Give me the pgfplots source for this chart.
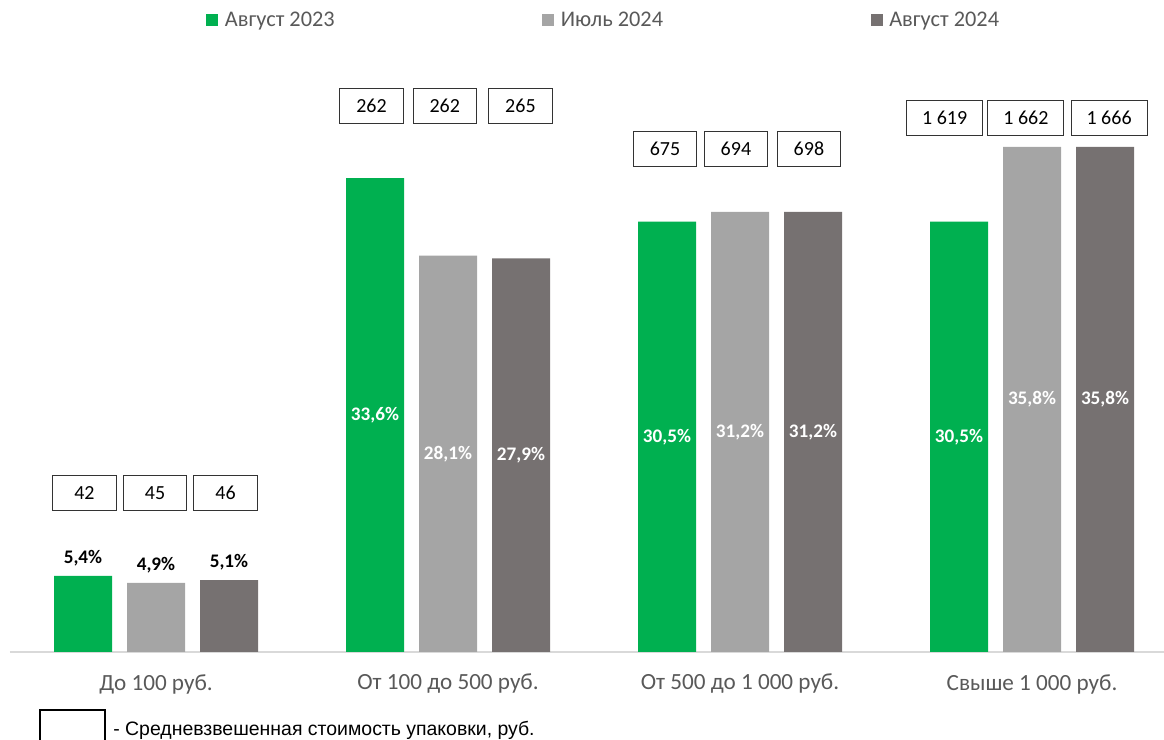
\documentclass[border=0pt]{standalone}
\usepackage{pgfplots}
\pgfplotsset{compat=1.18}
\usepackage{pgfplotstable}
\usepackage{fontspec}
\setmainfont{Carlito}
\newfontfamily\arialf{Liberation Sans}

\definecolor{cgreen}{HTML}{00B050}
\definecolor{clight}{HTML}{A5A5A5}
\definecolor{cdark}{HTML}{767171}
\definecolor{ctext}{HTML}{595959}
\definecolor{caxis}{HTML}{D9D9D9}

% x: group, v: share in %, box: weighted mean pack price, bx/by: where its frame sits
\pgfplotstableread{
x v    box  bx     by
0 5.4  42   -0.245 11.28
1 33.6 262  0.738  38.70
2 30.5 675  1.743  35.67
3 30.5 1619 2.701  37.86
}\augA
\pgfplotstableread{
x v    box  bx     by
0 4.9  45   -0.003 11.28
1 28.1 262  0.989  38.70
2 31.2 694  1.986  35.67
3 35.8 1662 2.979  37.86
}\julB
\pgfplotstableread{
x v    box  bx     by
0 5.1  46   0.238  11.28
1 27.9 265  1.248  38.70
2 31.2 698  2.236  35.67
3 35.8 1666 3.264  37.86
}\augB

\newcommand\pct{\fontsize{11.5}{13}\selectfont\bfseries}
\newcommand\num{\fontsize{12}{14}\selectfont}

% #1 table, #2 colour, #3 x offset, #4 legend text
\newcommand\series[4]{%
  \addplot[ybar, bar width=34.8pt, bar shift=0pt, fill=#2, draw=none, sq legend]
    table[x expr=\thisrow{x}+#3, y=v] {#1};
  \addlegendentry{#4}
  % percentages inside the bars
  \addplot[forget plot, draw=none, mark=none, restrict x to domain=0.5:4,
    point meta=\thisrow{v},
    nodes near coords={\pgfmathprintnumber{\pgfplotspointmeta}\%},
    every node near coord/.append style={font=\pct, text=white, anchor=center},
    /pgf/number format/.cd, use comma, fixed, fixed zerofill, precision=1, assume math mode=true]
    table[x expr=\thisrow{x}+#3, y expr=\thisrow{v}/2] {#1};
  % percentages above the small bars
  \addplot[forget plot, draw=none, mark=none, restrict x to domain=-1:0.5,
    point meta=\thisrow{v},
    nodes near coords={\pgfmathprintnumber{\pgfplotspointmeta}\%},
    every node near coord/.append style={font=\pct, text=black, anchor=center, yshift=10.8pt},
    /pgf/number format/.cd, use comma, fixed, fixed zerofill, precision=1, assume math mode=true]
    table[x expr=\thisrow{x}+#3, y=v] {#1};
  % framed prices
  \addplot[forget plot, draw=none, mark=none,
    point meta=\thisrow{box}, nodes near coords,
    every node near coord/.append style={font=\num, text=black, draw=black!80, line width=0.6pt,
      anchor=center, minimum width=38pt, minimum height=20.7pt, inner xsep=9.3pt},
    /pgf/number format/.cd, fixed, precision=0, 1000 sep={\ }, assume math mode=true]
    table[x=bx, y=by] {#1};
}

\begin{document}
\begin{tikzpicture}
\useasboundingbox (0,0) rectangle (698.4pt,444pt);
\begin{axis}[
  scale only axis, width=692.4pt, height=338.56pt,
  at={(6pt,52.8pt)}, anchor=south west,
  xmin=-0.5, xmax=3.452, ymin=0, ymax=40,
  axis x line*=bottom, axis y line=none,
  x axis line style={draw=caxis, line width=0.9pt},
  xtick={0,1,2,3},
  xticklabels={До 100 руб., От 100 до 500 руб., От 500 до 1 000 руб., Свыше 1 000 руб.},
  major tick length=0pt,
  xticklabel style={font=\fontsize{13.9}{16}\selectfont, text=ctext, anchor=center, yshift=-19.2pt},
  clip=false,
  sq legend/.style={legend image code/.code={\fill[##1, draw=none] (0pt,-3.6pt) rectangle (7.2pt,3.6pt);}},
  legend style={at={(0.515,1.12)}, anchor=center, legend columns=3, draw=none,
    font=\fontsize{13.4}{16}\selectfont, text=ctext,
    /tikz/every odd column/.append style={column sep=2pt},
    /tikz/every even column/.append style={column sep=122.5pt}},
]
\series{\augA}{cgreen}{-0.25}{Август 2023}
\series{\julB}{clight}{0}{Июль 2024}
\series{\augB}{cdark}{0.25}{Август 2024}
\end{axis}
\draw[line width=1.2pt] (24pt,-2pt) rectangle (63pt,18pt);
\node[anchor=west, inner sep=0pt, font=\arialf\fontsize{11.67}{14}\selectfont] at (67.8pt,6pt)
  {- Средневзвешенная стоимость упаковки, руб.};
\end{tikzpicture}
\end{document}
